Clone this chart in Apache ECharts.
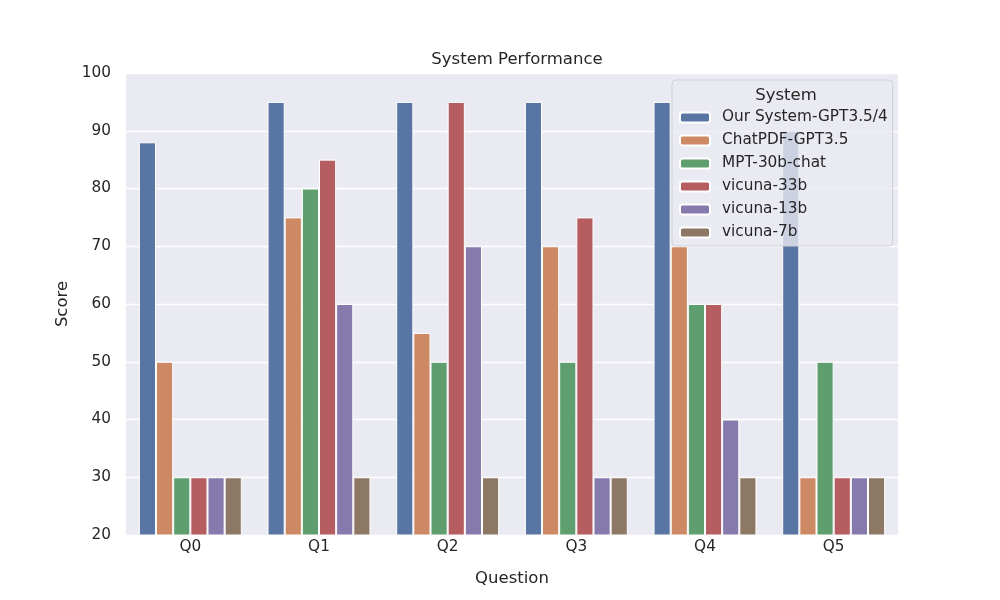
<!DOCTYPE html>
<html><head><meta charset="utf-8">
<script src="https://cdn.jsdelivr.net/npm/echarts@6/dist/echarts.min.js"></script>
<style>html,body{margin:0;padding:0;background:#fff}#c{width:1000px;height:600px}</style>
</head><body><div id="c"></div>
<script>
const categories = ['Q0','Q1','Q2','Q3','Q4','Q5'];
const seriesNames = ['Our System-GPT3.5/4','ChatPDF-GPT3.5','MPT-30b-chat','vicuna-33b','vicuna-13b','vicuna-7b'];
const ourSystem = [88,95,95,95,95,90];
const chatPDF = [50,75,55,70,70,30];
const mpt30b = [30,80,50,50,60,50];
const vicuna33b = [30,85,95,75,60,30];
const vicuna13b = [30,60,70,30,40,30];
const vicuna7b = [30,30,30,30,30,30];
const colors = ['#5975a4','#cc8963','#5f9e6e','#b55d60','#857aab','#8d7866'];
const allData = [ourSystem, chatPDF, mpt30b, vicuna33b, vicuna13b, vicuna7b];

const font = 'DejaVu Sans';
const chart = echarts.init(document.getElementById('c'));
chart.setOption({
  animation:false,
  textStyle:{fontFamily:font},
  title:[{text:'System Performance',left:512,textAlign:'center',top:46,textStyle:{fontFamily:font,fontSize:16.5,fontWeight:'normal',color:'#262626'}},
         {text:'System',left:781,textAlign:'center',top:82,textStyle:{fontFamily:font,fontSize:16.5,fontWeight:'normal',color:'#262626'},z:10}],
  grid:{left:126,right:102,top:73,bottom:65,show:true,backgroundColor:'#eaeaf2',borderWidth:0},
  legend:{orient:'vertical',left:672,top:80,padding:[30,5,6,7],itemWidth:30,itemHeight:10,itemGap:8,
    backgroundColor:'rgba(234,234,242,0.8)',borderColor:'#d0d0d8',borderWidth:1,borderRadius:4,
    textStyle:{fontFamily:font,fontSize:15.3,color:'#262626',lineHeight:15,padding:[0,0,0,7]},
    data:seriesNames},
  xAxis:{type:'category',data:categories,name:'Question',nameLocation:'middle',nameGap:35,
    nameTextStyle:{fontFamily:font,fontSize:16.5,color:'#262626'},
    axisLine:{show:false},axisTick:{show:false},
    axisLabel:{fontFamily:font,fontSize:15.3,color:'#262626',margin:5},splitLine:{show:false}},
  yAxis:{type:'value',min:20,max:100,interval:10,name:'Score',nameLocation:'middle',nameGap:42,
    nameTextStyle:{fontFamily:font,fontSize:16.5,color:'#262626'},
    axisLine:{show:false},axisTick:{show:false},
    axisLabel:{fontFamily:font,fontSize:15.3,color:'#262626',margin:15},
    splitLine:{lineStyle:{color:'#ffffff',width:1.3}}},
  series: seriesNames.map((n,i)=>({name:n,type:'bar',data:allData[i],barGap:'0%',barCategoryGap:'20%',
    itemStyle:{color:colors[i],borderColor:'#ffffff',borderWidth:1}}))
});
</script></body></html>
